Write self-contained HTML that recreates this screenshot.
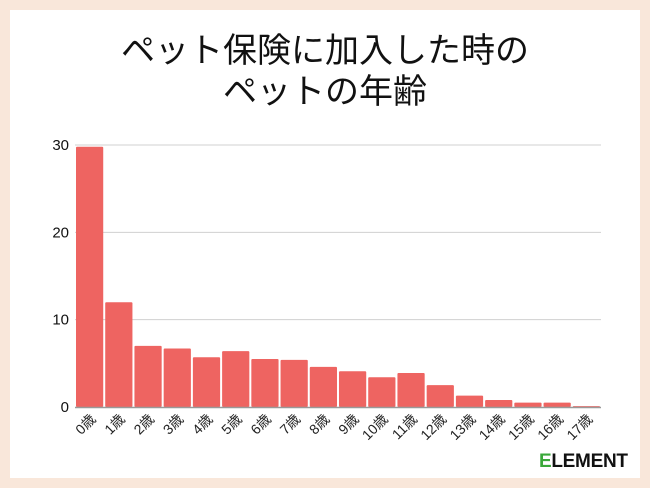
<!DOCTYPE html>
<html><head><meta charset="utf-8"><style>
body{margin:0;width:650px;height:488px;background:#f9e7da;font-family:"Liberation Sans","Noto Sans CJK JP",sans-serif;overflow:hidden}
#card{position:absolute;left:10px;top:10px;width:630px;height:468px;background:#fff}
#title{position:absolute;left:0;top:31px;width:650px;text-align:center;font-size:34px;line-height:41px;color:#111}
#logo{position:absolute;left:539px;top:451px;font-size:19px;font-weight:bold;letter-spacing:-0.3px;color:#111}
</style></head><body>
<div id="card"></div>
<div id="title">ペット保険に加入した時の<br>ペットの年齢</div>
<svg id="chart" width="650" height="488" style="position:absolute;left:0;top:0"></svg>
<div id="logo"><span style="color:#3aa83a">E</span>LEMENT</div>
<script>
const categories=["0歳","1歳","2歳","3歳","4歳","5歳","6歳","7歳","8歳","9歳","10歳","11歳","12歳","13歳","14歳","15歳","16歳","17歳"];
const values=[29.8,12.0,7.0,6.7,5.7,6.4,5.5,5.4,4.6,4.1,3.4,3.9,2.5,1.3,0.8,0.5,0.5,0.1];
const yTicks=[0,10,20,30];
const ns="http://www.w3.org/2000/svg";
const svg=document.getElementById('chart');
const x0=75,x1=601,y0=407,yTop=145,ymax=30;
const y=v=>y0-(v/ymax)*(y0-yTop);
const step=(x1-x0)/categories.length;
const xc=i=>x0+step*(i+0.5);
function mk(t,a){const e=document.createElementNS(ns,t);for(const k in a)e.setAttribute(k,a[k]);svg.appendChild(e);return e;}
yTicks.forEach(t=>{
 if(t>0){const g=mk('line',{x1:x0,x2:x1,y1:y(t),y2:y(t),stroke:'#d0d0d0','stroke-width':1});
 
 }
 const l=mk('text',{x:69,y:y(t)+5,'text-anchor':'end','font-size':15,fill:'#111'});
 l.textContent=t;
 
 
});
values.forEach((v,i)=>{
 const r=mk('rect',{x:xc(i)-step/2+1,y:y(v),width:step-2,height:y0-y(v),fill:'#ee6461',rx:1});
 
 
 const t=mk('text',{x:xc(i)+7,y:y0+13,'text-anchor':'end','font-size':14,fill:'#222',transform:`rotate(-45 ${xc(i)+7} ${y0+13})`});
 t.textContent=categories[i];
 
 
});
const ax=mk('line',{x1:x0,x2:x1,y1:y0+0.5,y2:y0+0.5,stroke:'#999','stroke-width':1.5});


</script>
</body></html>
